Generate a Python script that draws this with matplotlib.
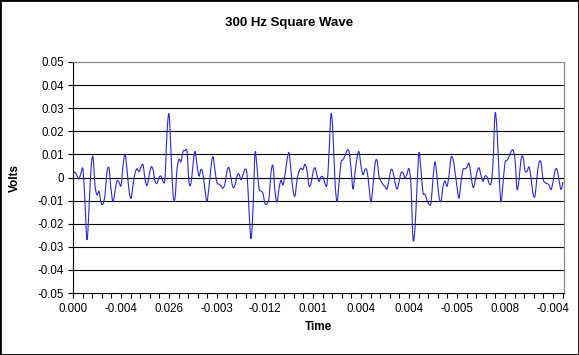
import matplotlib
matplotlib.use("Agg")
import matplotlib.pyplot as plt
from matplotlib.path import Path
from matplotlib.patches import PathPatch
from matplotlib.ticker import FixedLocator, MultipleLocator

plt.rcParams["font.family"] = ["Liberation Sans", "DejaVu Sans"]

volts = [
    0.0013, 0.0023, 0.0007, -0.0006, 0.0020, 0.0035, -0.0110, -0.0270, -0.0137, 0.0039,
    0.0090, -0.0035, -0.0076, -0.0060, -0.0108, -0.0115, -0.0075, 0.0025, 0.0040, -0.0050,
    -0.0105, -0.0060, -0.0015, -0.0020, -0.0035, 0.0050, 0.0100, 0.0035, -0.0055, -0.0090,
    -0.0035, 0.0018, 0.0038, 0.0025, 0.0046, 0.0055, -0.0005, -0.0035, 0.0005, 0.0045,
    0.0035, -0.0015, -0.0025, 0.0000, 0.0006, -0.0016, -0.0005, 0.0190, 0.0275, 0.0110,
    -0.0070, -0.0090, 0.0035, 0.0079, 0.0068, 0.0112, 0.0116, 0.0112, -0.0020, -0.0025,
    0.0055, 0.0113, 0.0054, 0.0006, 0.0035, 0.0015, -0.0055, -0.0103, -0.0040, 0.0046,
    0.0090, 0.0030, -0.0022, -0.0029, -0.0036, -0.0046, -0.0026, 0.0030, 0.0042, -0.0003,
    -0.0043, -0.0033, 0.0006, 0.0015, -0.0010, 0.0012, 0.0036, 0.0015, -0.0140, -0.0265,
    -0.0135, 0.0105, 0.0045, -0.0048, -0.0059, -0.0070, -0.0113, -0.0113, -0.0090, 0.0020,
    0.0050, -0.0060, -0.0106, -0.0047, -0.0012, -0.0032, 0.0012, 0.0075, 0.0107, 0.0030,
    -0.0055, -0.0080, -0.0010, 0.0027, 0.0040, 0.0035, 0.0057, 0.0030, -0.0035, -0.0026,
    0.0023, 0.0042, 0.0010, -0.0017, 0.0003, 0.0002, -0.0025, -0.0030, 0.0104, 0.0275,
    0.0190, -0.0015, -0.0105, -0.0026, 0.0065, 0.0077, 0.0095, 0.0116, 0.0113, 0.0040,
    -0.0050, 0.0020, 0.0085, 0.0112, 0.0050, 0.0013, 0.0035, 0.0030, -0.0040, -0.0106,
    -0.0035, 0.0058, 0.0075, 0.0005, -0.0016, -0.0030, -0.0040, -0.0050, -0.0010, 0.0034,
    0.0025, -0.0020, -0.0050, -0.0020, 0.0020, 0.0020, -0.0002, 0.0015, 0.0038, -0.0035,
    -0.0265, -0.0220, -0.0040, 0.0107, 0.0030, -0.0065, -0.0073, -0.0098, -0.0116, -0.0110,
    -0.0005, 0.0068, 0.0003, -0.0083, -0.0103, -0.0040, -0.0015, -0.0038, 0.0008, 0.0085,
    0.0080, 0.0025, -0.0040, -0.0090, -0.0020, 0.0035, 0.0037, 0.0045, 0.0062, 0.0010,
    -0.0043, -0.0020, 0.0025, 0.0042, 0.0008, -0.0017, 0.0006, 0.0003, -0.0024, -0.0025,
    0.0060, 0.0275, 0.0206, 0.0020, -0.0105, -0.0026, 0.0063, 0.0074, 0.0090, 0.0112,
    0.0119, 0.0080, -0.0050, -0.0010, 0.0078, 0.0090, 0.0030, 0.0026, 0.0046, 0.0000,
    -0.0070, -0.0080, 0.0003, 0.0065, 0.0065, -0.0005, -0.0022, -0.0026, -0.0033, -0.0052,
    -0.0020, 0.0030, 0.0035, -0.0010, -0.0052, -0.0020,
]

# category labels shown every 24 samples
time_labels = ["0.000", "-0.004", "0.026", "-0.003", "-0.012", "0.001",
               "0.004", "0.004", "-0.005", "0.008", "-0.004"]
label_step = 24
y_ticks = [-0.05, -0.04, -0.03, -0.02, -0.01, 0, 0.01, 0.02, 0.03, 0.04, 0.05]


def smooth_path(ys):
    # Excel-style smoothed line: cubic bezier through every sample
    n = len(ys)
    pts = [(float(i), ys[i]) for i in range(n)]
    verts = [pts[0]]
    codes = [Path.MOVETO]
    for i in range(n - 1):
        p0 = pts[max(i - 1, 0)]
        p1 = pts[i]
        p2 = pts[i + 1]
        p3 = pts[min(i + 2, n - 1)]
        c1 = (p1[0] + (p2[0] - p0[0]) / 6, p1[1] + (p2[1] - p0[1]) / 6)
        c2 = (p2[0] - (p3[0] - p1[0]) / 6, p2[1] - (p3[1] - p1[1]) / 6)
        verts += [c1, c2, p2]
        codes += [Path.CURVE4] * 3
    return Path(verts, codes)


fig = plt.figure(figsize=(5.79, 3.55), dpi=100)
fig.patch.set_facecolor("white")
ax = fig.add_axes([73 / 579, 1 - 293 / 355, 491 / 579, 231 / 355])

ax.add_patch(PathPatch(smooth_path(volts), facecolor="none", edgecolor="#2a2ad8",
                       linewidth=0.8, zorder=3))

ax.set_xlim(0, len(volts) - 0.5)
ax.set_ylim(-0.05, 0.05)

ax.xaxis.set_major_locator(FixedLocator([i * label_step for i in range(len(time_labels))]))
ax.set_xticklabels(time_labels)
ax.xaxis.set_minor_locator(MultipleLocator(label_step / 5))
ax.set_yticks(y_ticks)
ax.set_yticklabels(["0" if v == 0 else "%.2f" % v for v in y_ticks])

ax.tick_params(axis="both", which="both", direction="out", length=3.5, width=0.8,
               color="black", labelsize=8.3, labelcolor="black")
ax.tick_params(axis="x", pad=4)
ax.tick_params(axis="y", pad=3)

for v in y_ticks[1:-1]:
    ax.axhline(v, color="black", linewidth=0.8, zorder=1)

for side in ["top", "right"]:
    ax.spines[side].set_color("#8c8c8c")
    ax.spines[side].set_linewidth(0.9)
for side in ["left", "bottom"]:
    ax.spines[side].set_color("black")
    ax.spines[side].set_linewidth(0.8)

ax.set_xlabel("Time", fontsize=8.5, fontweight="bold", labelpad=4)
ax.set_ylabel("Volts", fontsize=8.5, fontweight="bold", labelpad=12)
fig.text(0.5, 1 - 23 / 355, "300 Hz Square Wave", ha="center", va="center",
         fontsize=9.5, fontweight="bold")

fig.add_artist(plt.Rectangle((0, 0), 1, 1, transform=fig.transFigure, fill=False,
                             edgecolor="black", linewidth=2))

fig.savefig("out.png", dpi=100)
